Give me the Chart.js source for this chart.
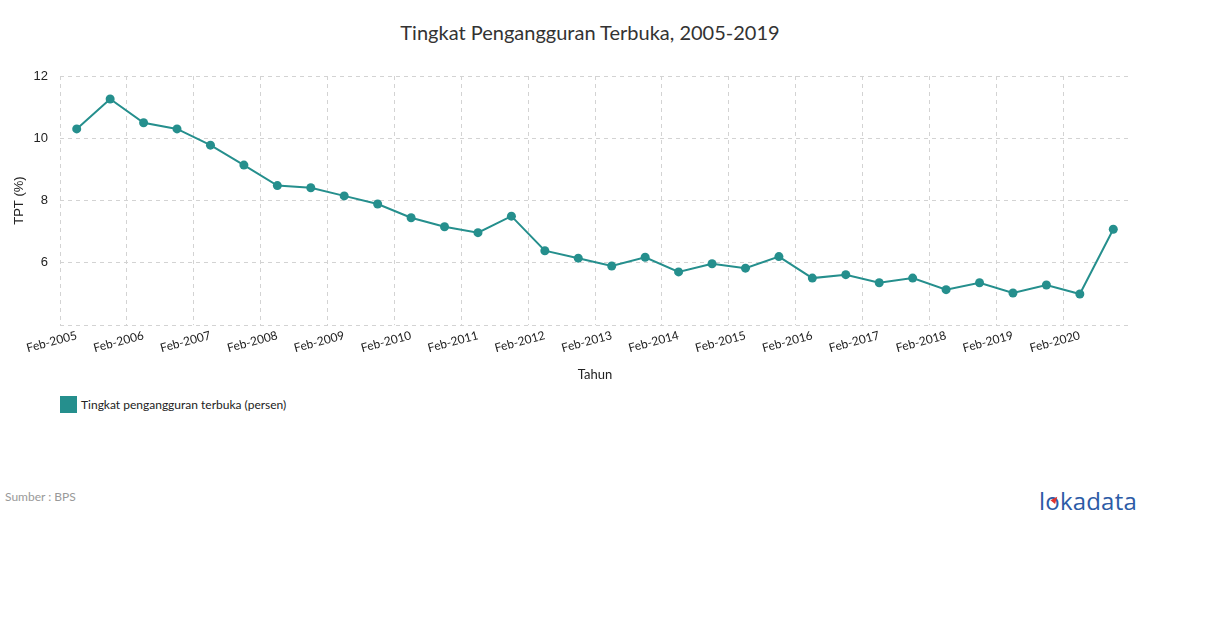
<!DOCTYPE html>
<html>
<head>
<meta charset="utf-8">
<script src="https://cdn.jsdelivr.net/npm/chart.js@4.4.1/dist/chart.umd.min.js"></script>
<style>
  body { margin: 0; background: #fff; font-family: Lato, 'Open Sans', sans-serif; }
  #wrap { position: relative; width: 1210px; height: 628px; }
  #title { position: absolute; left: 0; width: 1180px; top: 20px; text-align: center; font-size: 20px; color: #333; }
  #box { position: absolute; left: 0; top: 0; width: 1210px; height: 393px; }
  #legend { position: absolute; left: 60px; top: 396px; font-size: 12px; color: #222; display: flex; align-items: center; }
  #legend span.sw { display: inline-block; width: 17px; height: 17px; margin-right: 4px; }
  #source { position: absolute; left: 5px; top: 489px; font-size: 12px; color: #999; }
  #logo { position: absolute; left: 1039px; top: 484px; font-family: 'Open Sans', sans-serif; font-size: 24px; font-weight: normal; color: #2c5ba6; letter-spacing: 0.2px; }
  #logo .acc { position: absolute; left: 13px; top: 12px; width: 0; height: 0; border-left: 3px solid transparent; border-right: 3px solid transparent; border-bottom: 7px solid #e0332c; transform: rotate(40deg); }
</style>
</head>
<body>
<div id="wrap">
  <div id="title">Tingkat Pengangguran Terbuka, 2005-2019</div>
  <div id="box"><canvas id="chart"></canvas></div>
  <div id="legend"><span class="sw" id="sw"></span><span id="legendText"></span></div>
  <div id="source">Sumber : BPS</div>
  <div id="logo">lokadata<span class="acc"></span></div>
</div>
<script>
// Periode survei (Feb & Agu tiap tahun)
const periods = [
  'Feb-2005', 'Aug-2005', 'Feb-2006', 'Aug-2006', 'Feb-2007', 'Aug-2007', 'Feb-2008', 'Aug-2008',
  'Feb-2009', 'Aug-2009', 'Feb-2010', 'Aug-2010', 'Feb-2011', 'Aug-2011', 'Feb-2012', 'Aug-2012',
  'Feb-2013', 'Aug-2013', 'Feb-2014', 'Aug-2014', 'Feb-2015', 'Aug-2015', 'Feb-2016', 'Aug-2016',
  'Feb-2017', 'Aug-2017', 'Feb-2018', 'Aug-2018', 'Feb-2019', 'Aug-2019', 'Feb-2020', 'Aug-2020'
];
// TPT (%)
const tpt = [
  10.30, 11.26, 10.50, 10.30, 9.78, 9.14, 8.48, 8.41,
  8.15, 7.89, 7.45, 7.16, 6.97, 7.50, 6.39, 6.15,
  5.90, 6.18, 5.71, 5.97, 5.83, 6.20, 5.51, 5.62,
  5.36, 5.51, 5.14, 5.36, 5.03, 5.29, 5.00, 7.08
];
const yTicks = [4, 6, 8, 10, 12];

const seriesName = 'Tingkat pengangguran terbuka (persen)';
const teal = '#258f8d';
const gridColor = '#d3d3d3';

document.getElementById('sw').style.background = teal;
document.getElementById('legendText').textContent = seriesName;

new Chart(document.getElementById('chart'), {
  type: 'line',
  data: {
    labels: periods,
    datasets: [{
      label: seriesName,
      data: tpt,
      borderColor: teal,
      backgroundColor: teal,
      borderWidth: 2,
      pointRadius: 4.5,
      pointBackgroundColor: teal,
      pointBorderWidth: 0,
      tension: 0
    }]
  },
  options: {
    responsive: true,
    maintainAspectRatio: false,
    animation: false,
    layout: { padding: { left: 5, right: 80, top: 76, bottom: 6 } },
    plugins: {
      legend: { display: false },
      tooltip: { enabled: false }
    },
    scales: {
      x: {
        offset: true,
        grid: {
          offset: true,
          color: (c) => (c.index % 2 === 0 ? gridColor : 'rgba(0,0,0,0)'),
          tickLength: 0
        },
        border: { display: false, dash: [4, 4] },
        ticks: {
          autoSkip: false,
          minRotation: 15,
          maxRotation: 15,
          color: '#222',
          font: { family: 'Lato', size: 12 },
          callback: (v, i) => (i % 2 === 0 ? periods[i] : '')
        },
        title: {
          display: true,
          text: 'Tahun',
          color: '#222',
          font: { family: 'Lato', size: 13 },
          padding: { top: 9 }
        }
      },
      y: {
        min: yTicks[0],
        max: yTicks[yTicks.length - 1],
        afterBuildTicks: (axis) => { axis.ticks = yTicks.map(v => ({ value: v })); },
        afterFit: (axis) => { axis.width = 55; },
        grid: { color: gridColor, tickLength: 0 },
        border: { display: false, dash: [4, 4] },
        ticks: {
          color: '#222',
          padding: 12,
          font: { family: 'Liberation Sans', size: 13 },
          callback: (v) => (v === yTicks[0] ? '' : v)
        },
        title: {
          display: true,
          text: 'TPT (%)',
          color: '#222',
          font: { family: 'Liberation Sans', size: 13 },
          padding: { top: 7, bottom: 0 }
        }
      }
    }
  }
});
</script>
</body>
</html>
